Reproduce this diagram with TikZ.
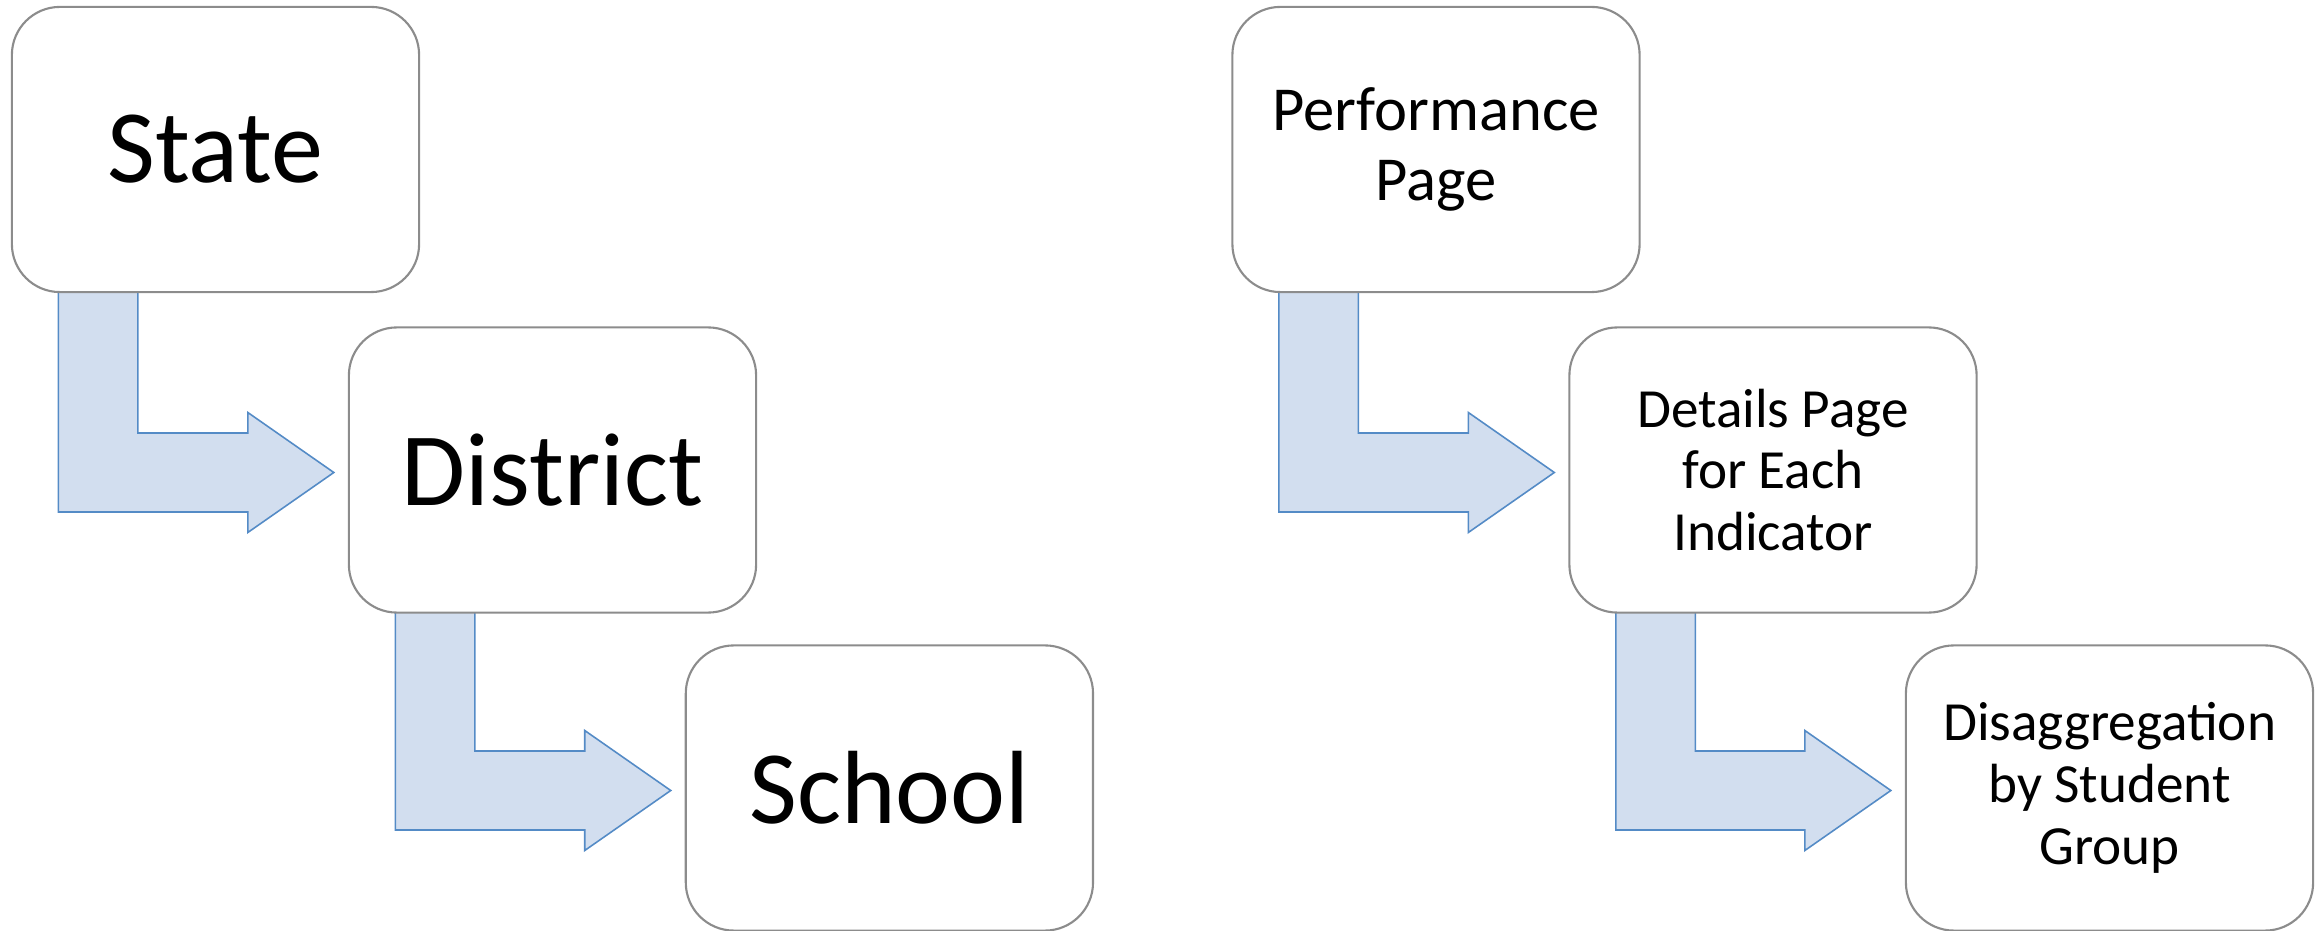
\documentclass[tikz,border=0pt]{standalone}
\usepackage{fontspec}
\setmainfont{Carlito}
\usetikzlibrary{calc}
\pgfdeclarelayer{bg}
\pgfsetlayers{bg,main}
\definecolor{boxline}{RGB}{140,140,140}
\definecolor{arrfill}{RGB}{210,222,239}
\definecolor{arrline}{RGB}{84,139,198}
\tikzset{
  levelbox/.style={draw=boxline, line width=0.6pt, fill=white, rounded corners=0.48cm,
    minimum width=4.07cm, minimum height=2.85cm, inner sep=0pt, align=center, text=black},
  bigtxt/.style={font=\fontsize{29.6}{33}\selectfont},
  midtxt/.style={font=\fontsize{17.8}{20}\selectfont},
  smalltxt/.style={font=\fontsize{15.7}{17.6}\selectfont},
  arrowshape/.style={fill=arrfill, draw=arrline, line width=0.45pt, line join=miter},
}
\newcommand\drawbent[2]{%
  \coordinate (sl) at ($(#1.south west)+(47.5,-15)$);
  \coordinate (sr) at ($(#1.south west)+(127,-15)$);
  \coordinate (tip) at ($(#2.west)+(-14,2.5)$);
  \coordinate (bt) at ($(tip)+(-86,-39.5)$);
  \coordinate (bb) at ($(tip)+(-86,39.5)$);
  \coordinate (ht) at ($(tip)+(-86,-60)$);
  \coordinate (hb) at ($(tip)+(-86,60)$);
  \draw[arrowshape] (sl) -- (sl |- bb) -- (bb) -- (hb) -- (tip) -- (ht) -- (bt) -- (sr |- bt) -- (sr) -- cycle;
}
\begin{document}
\begin{tikzpicture}[x=0.01cm,y=-0.01cm]
\useasboundingbox (0,0) rectangle (2321,931);
\node[levelbox,bigtxt] (b1) at (215.5,149.5) {State};
\node[levelbox,bigtxt] (b2) at (552.5,470) {District};
\node[levelbox,bigtxt] (b3) at (889.4,788) {School};
\node[levelbox,midtxt] (b4) at (1436,149.5) {Performance\\Page};
\node[levelbox,smalltxt] (b5) at (1773,470) {Details Page\\for Each\\Indicator};
\node[levelbox,smalltxt] (b6) at (2109.5,788) {Disaggregation\\by Student\\Group};
\begin{pgfonlayer}{bg}
  \drawbent{b1}{b2}
  \drawbent{b2}{b3}
  \drawbent{b4}{b5}
  \drawbent{b5}{b6}
\end{pgfonlayer}
\end{tikzpicture}
\end{document}
